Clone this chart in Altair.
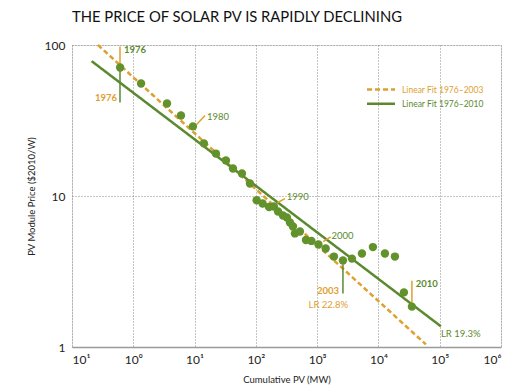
import altair as alt
import pandas as pd

# ---- data ----
years = list(range(1976, 2011))
cum_pv = [0.61, 1.34, 3.55, 6.0, 9.4, 14.2, 22.3, 32.5, 42.3, 59.3, 80.1, 103, 129, 164,
          197, 230, 277, 321, 360, 403, 434, 524, 656, 807, 1050, 1377, 1879, 2636, 3698,
          5383, 8128, 12760, 18580, 26060, 35180]
price = [71.0, 55.6, 41.0, 34.1, 28.9, 22.3, 19.1, 17.2, 15.2, 14.1, 12.1, 9.38, 8.92, 8.46,
         8.52, 7.89, 7.43, 7.21, 6.68, 6.28, 5.65, 5.82, 5.11, 5.04, 4.77, 4.49, 3.97, 3.74,
         3.85, 4.16, 4.59, 4.16, 3.97, 2.30, 1.85]

fit_names = ["Linear Fit 1976–2003", "Linear Fit 1976–2010"]
fit2003_x = [0.265, 59570]
fit2003_y = [100.0, 1.04]
fit2010_x = [0.209, 104700]
fit2010_y = [78.2, 1.37]

x_tick_values = [0.1, 1, 10, 100, 1000, 10000, 100000, 1000000]
x_tick_labels = ["10¹", "10⁰", "10¹", "10²", "10³", "10⁴", "10⁵", "10⁶"]
y_tick_values = [1, 10, 100]

GREEN = "#5b8a2e"
ORANGE = "#dea02e"
FONT = "Lato"

pts = pd.DataFrame({"year": years, "cum": cum_pv, "price": price})
fits = pd.DataFrame({
    "cum": fit2003_x + fit2010_x,
    "price": fit2003_y + fit2010_y,
    "fit": [fit_names[0]] * 2 + [fit_names[1]] * 2,
})

leaders = pd.DataFrame({
    "x": [0.607, 0.607, 10.8, 223, 1258, 2636, 35180],
    "y": [71.0, 71.0, 29.8, 9.02, 4.98, 3.52, 1.85],
    "x2": [0.607, 0.607, 14.8, 298.5, 1660, 2636, 35180],
    "y2": [97.7, 41.6, 34.1, 9.62, 5.37, 2.26, 2.75],
    "c": ["g", "o", "g", "g", "g", "o", "g"],
})

labels_left = pd.DataFrame({
    "x": [0.705, 15.9, 318, 1711, 40460, 104700],
    "y": [92.0, 33.2, 9.82, 5.42, 2.63, 1.21],
    "t": ["1976", "1980", "1990", "2000", "2010", "LR 19.3%"],
    "w": ["bold", "normal", "normal", "normal", "bold", "normal"],
})
labels_right = pd.DataFrame({
    "x": [0.542, 2270, 3214],
    "y": [44.3, 2.34, 1.91],
    "t": ["1976", "2003", "LR 22.8%"],
    "w": ["bold", "bold", "normal"],
})

xscale = alt.Scale(type="log", domain=[0.1, 1e6])
yscale = alt.Scale(type="log", domain=[1, 100])

label_expr = "[" + ",".join("'%s'" % s for s in x_tick_labels) + "][round(log(datum.value)/LN10)+1]"

x_axis = alt.Axis(values=x_tick_values, labelExpr=label_expr, title="Cumulative PV (MW)",
                  grid=True, gridColor="#8a8a8a", gridDash=[1, 2], gridWidth=1,
                  ticks=False, domain=True, domainColor="#9a9a9a", domainWidth=1.5,
                  labelFont=FONT, labelFontSize=12, labelColor="#222", labelPadding=7,
                  titleFont=FONT, titleFontSize=9.5, titleFontWeight="normal", titleColor="#222",
                  titlePadding=9)
y_axis = alt.Axis(values=y_tick_values, format="d", title="PV Module Price ($2010/W)",
                  grid=True, gridColor="#8a8a8a", gridDash=[1, 2], gridWidth=1,
                  ticks=False, domain=False,
                  labelFont=FONT, labelFontSize=12, labelColor="#222", labelPadding=7,
                  titleFont=FONT, titleFontSize=9.5, titleFontWeight="normal", titleColor="#222",
                  titlePadding=8)

base_x = alt.X("cum:Q", scale=xscale, axis=x_axis)
base_y = alt.Y("price:Q", scale=yscale, axis=y_axis)

fit_lines = alt.Chart(fits).mark_line(strokeWidth=2.5).encode(
    x=base_x, y=base_y,
    color=alt.Color("fit:N", scale=alt.Scale(domain=fit_names, range=[ORANGE, GREEN]), legend=None),
    strokeDash=alt.StrokeDash("fit:N", scale=alt.Scale(domain=fit_names, range=[[5, 3], [1, 0]]), legend=None),
    detail="fit:N",
)

leader_layer = alt.Chart(leaders).mark_rule(strokeWidth=1.5).encode(
    x="x:Q", y="y:Q", x2="x2:Q", y2="y2:Q",
    color=alt.Color("c:N", scale=alt.Scale(domain=["g", "o"], range=[GREEN, ORANGE]), legend=None),
)

points = alt.Chart(pts).mark_circle(size=70, opacity=1, color="#62922c").encode(
    x="cum:Q", y="price:Q", tooltip=["year:O", "cum:Q", "price:Q"]
)

def txt(df, align, color, weight):
    return alt.Chart(df).transform_filter(alt.datum.w == weight).mark_text(
        align=align, baseline="middle", font=FONT, fontSize=9.5, fontWeight=weight, color=color
    ).encode(x="x:Q", y="y:Q", text="t:N")

text_layers = [
    txt(labels_left, "left", GREEN, "bold"),
    txt(labels_left, "left", GREEN, "normal"),
    txt(labels_right, "right", ORANGE, "bold"),
    txt(labels_right, "right", ORANGE, "normal"),
]

# manual legend (pixel positions inside the plot area)
leg_lines = pd.DataFrame({"fit": fit_names, "x0": [295, 295], "x1": [323, 323], "yy": [44.5, 58.8],
                          "tx": [330, 330]})
leg_rule = alt.Chart(leg_lines).mark_rule(strokeWidth=2.5).encode(
    x=alt.X("x0:Q", scale=None), x2="x1:Q", y=alt.Y("yy:Q", scale=None),
    color=alt.Color("fit:N", scale=alt.Scale(domain=fit_names, range=[ORANGE, GREEN]), legend=None),
    strokeDash=alt.StrokeDash("fit:N", scale=alt.Scale(domain=fit_names, range=[[5, 3], [1, 0]]), legend=None),
)
leg_text = alt.Chart(leg_lines).mark_text(align="left", baseline="middle", font=FONT, fontSize=8.5).encode(
    x=alt.X("tx:Q", scale=None), y=alt.Y("yy:Q", scale=None), text="fit:N",
    color=alt.Color("fit:N", scale=alt.Scale(domain=fit_names, range=[ORANGE, GREEN]), legend=None),
)

chart = alt.layer(fit_lines, leader_layer, points, *text_layers, leg_rule, leg_text).properties(
    width=429, height=302,
    title=alt.TitleParams("THE PRICE OF SOLAR PV IS RAPIDLY DECLINING", anchor="start", frame="group",
                          font=FONT, fontSize=14.8, fontWeight="normal", color="#111", offset=14),
    padding={"left": 64, "top": 37, "right": 8, "bottom": 44},
    autosize=alt.AutoSizeParams(type="none"),
).configure_view(stroke=None).configure(background="white")

chart.save("out.html", embed_options={"renderer": "svg", "actions": False})
